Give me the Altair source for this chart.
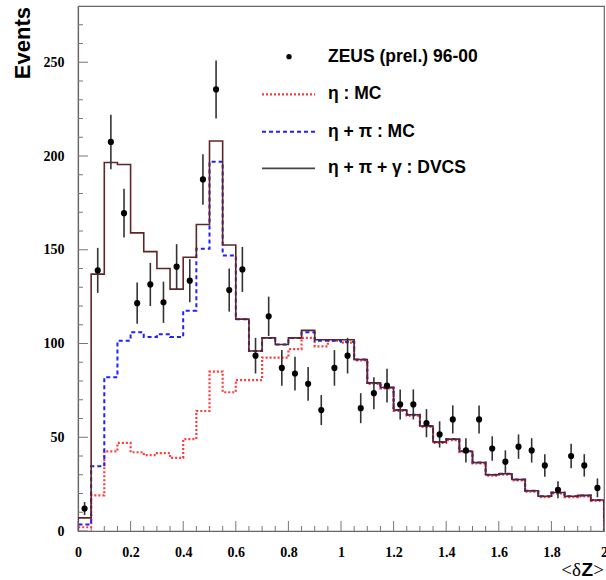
import altair as alt
import pandas as pd

# ---------------- data ----------------
edges = [0.0, 0.05, 0.1, 0.15, 0.2, 0.25, 0.3, 0.35, 0.4, 0.45,
         0.5, 0.55, 0.6, 0.65, 0.7, 0.75, 0.8, 0.85, 0.9, 0.95,
         1.0, 1.05, 1.1, 1.15, 1.2, 1.25, 1.3, 1.35, 1.4, 1.45,
         1.5, 1.55, 1.6, 1.65, 1.7, 1.75, 1.8, 1.85, 1.9, 1.95, 2.0]

centers = [0.025, 0.075, 0.125, 0.175, 0.225, 0.275, 0.325, 0.375, 0.425, 0.475,
           0.525, 0.575, 0.625, 0.675, 0.725, 0.775, 0.825, 0.875, 0.925, 0.975,
           1.025, 1.075, 1.125, 1.175, 1.225, 1.275, 1.325, 1.375, 1.425, 1.475,
           1.525, 1.575, 1.625, 1.675, 1.725, 1.775, 1.825, 1.875, 1.925, 1.975]

zeus = [12, 139, 207.5, 169.5, 121.5, 131.5, 122, 141, 133.5, 187.5,
        235.5, 128.5, 139.5, 93.5, 114.5, 87, 84, 78.5, 64.5, 87,
        93.5, 65.5, 73.5, 77.5, 67.5, 67.5, 57.5, 51.5, 59.5, 43,
        59.5, 44, 37, 45, 43, 35, 22, 40, 35, 23]

zeus_err = [3.5, 12, 14.5, 13, 11, 11.5, 11, 12, 11.5, 13.5,
            15.5, 11.5, 12, 9.5, 10.5, 9.5, 9, 9, 8, 9.5,
            9.5, 8, 8.5, 9, 8, 8, 7.5, 7, 7.5, 6.5,
            7.5, 6.5, 6, 6.5, 6.5, 6, 4.5, 6.5, 6, 5]

eta_mc = [2, 19, 42.5, 47, 42, 40.5, 41.5, 39, 49, 64,
          85, 74, 80.5, 80.5, 92.5, 92.5, 97, 103, 98.5, 101.5,
          100.5, 91, 78.5, 76, 64, 61.5, 55.5, 47, 48.5, 42,
          36, 29.5, 30, 27, 21, 18, 20, 18, 18.5, 16]

eta_pi_mc = [3.5, 34.5, 82, 101.5, 106, 103.5, 105, 103.5, 117.5, 150.5,
             197, 147, 113, 96, 103, 99.5, 103, 106, 101.5, 101.5,
             101, 91.5, 79, 76.5, 64.5, 62, 56, 47.5, 49, 42.5,
             36.5, 30, 30.5, 27.5, 21.5, 18.5, 20.5, 18.5, 19, 16.5]

dvcs = [7, 137, 196.5, 195.5, 159, 149, 140, 129, 146, 163.5,
        208, 152.5, 113, 96, 103, 99.5, 103, 107, 102, 102,
        102, 91.5, 79, 76.5, 64.5, 62, 56, 47.5, 49, 42.5,
        36.5, 30, 30.5, 27.5, 21.5, 18.5, 20.5, 18.5, 19, 16.5]

x_major = [0, 0.2, 0.4, 0.6, 0.8, 1.0, 1.2, 1.4, 1.6, 1.8, 2.0]
x_minor = [0.05, 0.1, 0.15, 0.25, 0.3, 0.35, 0.45, 0.5, 0.55, 0.65, 0.7, 0.75,
           0.85, 0.9, 0.95, 1.05, 1.1, 1.15, 1.25, 1.3, 1.35, 1.45, 1.5, 1.55,
           1.65, 1.7, 1.75, 1.85, 1.9, 1.95]
y_major = [0, 50, 100, 150, 200, 250]
y_minor = [10, 20, 30, 40, 60, 70, 80, 90, 110, 120, 130, 140, 160, 170, 180, 190,
           210, 220, 230, 240, 260, 270]

legend_labels = ["ZEUS (prel.) 96-00", "η : MC", "η + π : MC", "η + π + γ : DVCS"]

# ---------------- layout ----------------
W, H = 526, 525
legend_rows_y = [50.7, 88.3, 125.7, 162.3]

xs = alt.Scale(domain=[0, 2], nice=False, zero=False)
ys = alt.Scale(domain=[0, 280], nice=False, zero=True)


def step_df(vals):
    x = [0.0] + edges[:-1] + [edges[-1], edges[-1]]
    y = [0.0] + list(vals) + [vals[-1], 0.0]
    return pd.DataFrame({"x": x, "y": y, "i": list(range(len(x)))})


x_axis = alt.Axis(values=x_major, format="~g", ticks=False, grid=False, title=None,
                  labelFont="Liberation Serif", labelFontWeight="bold", labelFontSize=14,
                  labelColor="black", labelPadding=14, domainColor="#666", domainWidth=1.2,
                  labelFlush=False)
y_axis = alt.Axis(values=y_major, format="d", ticks=False, grid=False, title=None,
                  labelFont="Liberation Serif", labelFontWeight="bold", labelFontSize=14,
                  labelColor="black", labelPadding=14, domainColor="#666", domainWidth=1.2)


def hist(vals, color, dash=None, width=2.0):
    kw = dict(interpolate="step-after", color=color, strokeWidth=width, clip=True)
    if dash:
        kw["strokeDash"] = dash
    return alt.Chart(step_df(vals)).mark_line(**kw).encode(
        x=alt.X("x:Q", scale=xs, axis=x_axis),
        y=alt.Y("y:Q", scale=ys, axis=y_axis),
        order="i:Q",
    )


h_dvcs = hist(dvcs, "#5e2626", None, 1.6)
h_eta = hist(eta_mc, "#ff3c3c", [2, 2], 2.2)
h_etapi = hist(eta_pi_mc, "#1f1fff", [4, 3], 2.0)

pts_df = pd.DataFrame({"x": centers, "y": zeus,
                       "lo": [v - e for v, e in zip(zeus, zeus_err)],
                       "hi": [v + e for v, e in zip(zeus, zeus_err)]})
err = alt.Chart(pts_df).mark_rule(color="#333", strokeWidth=1.6).encode(
    x=alt.X("x:Q", scale=xs), y=alt.Y("lo:Q", scale=ys), y2="hi:Q")
pts = alt.Chart(pts_df).mark_circle(size=38, color="black", opacity=1).encode(
    x=alt.X("x:Q", scale=xs), y=alt.Y("y:Q", scale=ys))

# inward ticks
xmaj = alt.Chart(pd.DataFrame({"v": x_major})).mark_rule(color="#777", strokeWidth=1).encode(
    x=alt.X("v:Q", scale=xs), y=alt.value(H), y2=alt.value(H - 10))
xmin = alt.Chart(pd.DataFrame({"v": x_minor})).mark_rule(color="#777", strokeWidth=1).encode(
    x=alt.X("v:Q", scale=xs), y=alt.value(H), y2=alt.value(H - 5))
ymaj = alt.Chart(pd.DataFrame({"v": y_major})).mark_rule(color="#777", strokeWidth=1).encode(
    y=alt.Y("v:Q", scale=ys), x=alt.value(0), x2=alt.value(10))
ymin = alt.Chart(pd.DataFrame({"v": y_minor})).mark_rule(color="#777", strokeWidth=1).encode(
    y=alt.Y("v:Q", scale=ys), x=alt.value(0), x2=alt.value(5))

# legend
leg = []
leg.append(alt.Chart(pd.DataFrame({"a": [0]})).mark_circle(size=28, color="black", opacity=1).encode(
    x=alt.value(211), y=alt.value(legend_rows_y[0])))
styles = [("#ff3c3c", [2, 2], 2.2), ("#1f1fff", [4, 3], 2.0), ("#444444", None, 1.8)]
for (c, d, w), yy in zip(styles, legend_rows_y[1:]):
    kw = dict(color=c, strokeWidth=w)
    if d:
        kw["strokeDash"] = d
    leg.append(alt.Chart(pd.DataFrame({"a": [0]})).mark_rule(**kw).encode(
        x=alt.value(184), x2=alt.value(237), y=alt.value(yy)))
for lab, yy in zip(legend_labels, legend_rows_y):
    leg.append(alt.Chart(pd.DataFrame({"t": [lab]})).mark_text(
        align="left", baseline="middle", font="Liberation Sans", fontWeight="bold",
        fontSize=17.5, color="black").encode(
        x=alt.value(250), y=alt.value(yy), text="t:N"))

ytitle = alt.Chart(pd.DataFrame({"t": ["Events"]})).mark_text(
    angle=270, align="right", baseline="alphabetic", font="Liberation Sans",
    fontWeight="bold", fontSize=22, color="black").encode(
    x=alt.value(-48), y=alt.value(1), text="t:N")

# x title "<δZ>" composed of serif and bold-sans pieces, right-aligned at plot edge
xt_pieces = [("<δ", "Liberation Serif", "normal", W - 23.0),
             ("Z", "Liberation Sans", "bold", W - 11.0),
             (">", "Liberation Serif", "normal", W)]
xtitle = []
for txt, fnt, fw, xr in xt_pieces:
    xtitle.append(alt.Chart(pd.DataFrame({"t": [txt]})).mark_text(
        align="right", baseline="alphabetic", font=fnt, fontWeight=fw,
        fontSize=19, color="black").encode(
        x=alt.value(xr), y=alt.value(570), text="t:N"))

chart = alt.layer(
    h_eta, h_etapi, h_dvcs, err, pts, xmaj, xmin, ymaj, ymin, *leg, ytitle, *xtitle
).properties(
    width=W, height=H,
    padding={"left": 78, "top": 6, "right": 2, "bottom": 49},
    autosize=alt.AutoSizeParams(type="none"),
    background="white",
).configure_view(stroke="#666", strokeWidth=1.2)

chart.save("out.html", embed_options={"renderer": "svg", "actions": False})
